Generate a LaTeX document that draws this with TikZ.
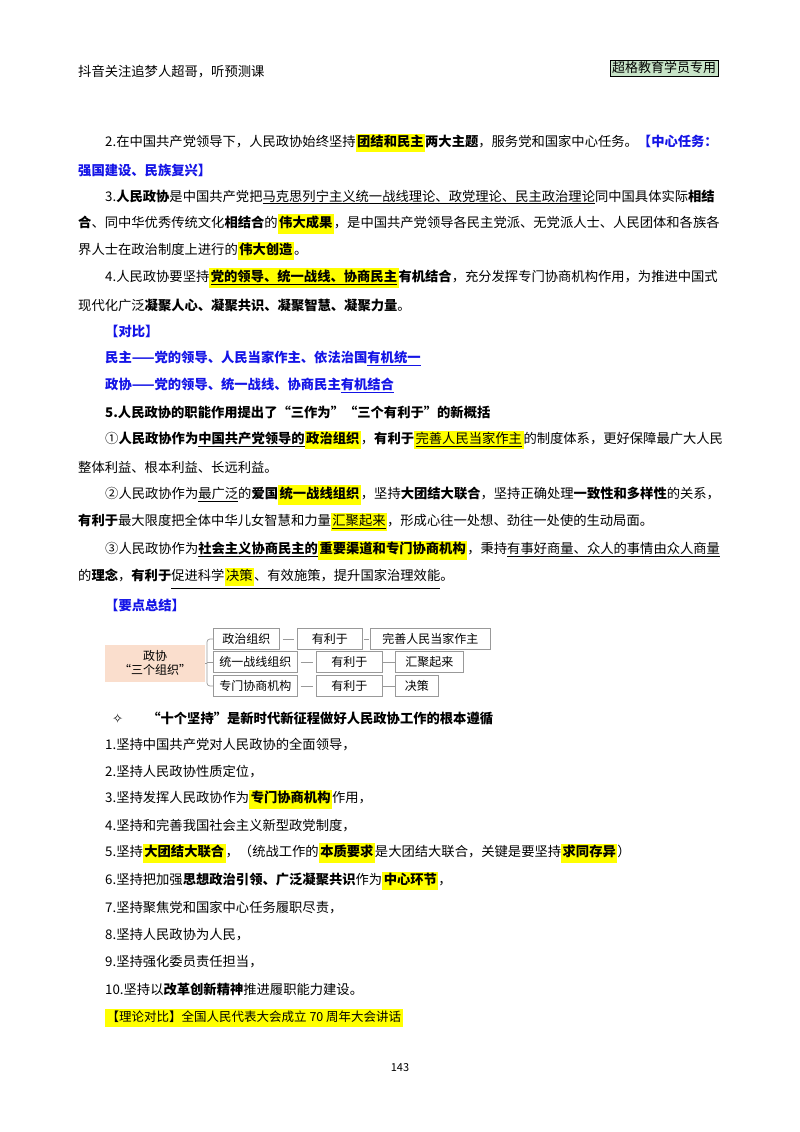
\documentclass[tikz,border=0pt]{standalone}
\usepackage{fontspec}
\setmainfont{Noto Sans CJK SC}
\newfontfamily\symfont{DejaVu Sans}
\definecolor{hly}{RGB}{255,255,0}
\definecolor{bl}{RGB}{20,20,230}
\definecolor{peach}{RGB}{250,222,205}
\definecolor{stampg}{RGB}{200,228,200}
\newcommand{\hy}[1]{{\setlength{\fboxsep}{1.5pt}\colorbox{hly}{\strut #1}}}
\newcommand{\ul}[1]{\underline{#1}}
\tikzset{
 tl/.style={anchor=west,inner sep=0pt,font=\fontsize{13.3}{15}\selectfont},
 bx/.style={draw=gray!80,line width=0.7pt,minimum height=21pt,inner sep=2pt,font=\fontsize{12}{14}\selectfont,fill=white},
 dsh/.style={draw=gray!80,line width=0.7pt}
}
\begin{document}
\begin{tikzpicture}[x=1pt,y=-1pt]
\useasboundingbox (0,0) rectangle (800,1132);
\node[tl] (h1) at (78,72) {抖音关注追梦人超哥，听预测课};
\node[draw,line width=0.8pt,fill=stampg,inner sep=2pt,font=\fontsize{13}{15}\selectfont] (stamp) at (664,68) {超格教育学员专用};

\node[tl] (a1) at (105,143) {2.在中国共产党领导下，人民政协始终坚持\hy{\bfseries 团结和民主}\textbf{两大主题}，服务党和国家中心任务。\textcolor{bl}{\bfseries 【中心任务：}};
\node[tl] (a2) at (78,170) {\textcolor{bl}{\bfseries 强国建设、民族复兴】}};
\node[tl] (b1) at (105,197) {3.\textbf{人民政协}是中国共产党把\ul{马克思列宁主义统一战线理论、政党理论、民主政治理论}同中国具体实际\textbf{相结}};
\node[tl] (b2) at (78,224) {\textbf{合}、同中华优秀传统文化\textbf{相结合}的\hy{\bfseries 伟大成果}，是中国共产党领导各民主党派、无党派人士、人民团体和各族各};
\node[tl] (b3) at (78,251) {界人士在政治制度上进行的\hy{\bfseries 伟大创造}。};
\node[tl] (c1) at (105,278) {4.人民政协要坚持\hy{\bfseries\ul{党的领导、统一战线、协商民主}}\textbf{有机结合}，充分发挥专门协商机构作用，为推进中国式};
\node[tl] (c2) at (78,305) {现代化广泛\textbf{凝聚人心、凝聚共识、凝聚智慧、凝聚力量}。};
\node[tl] (d0) at (105,331) {\textcolor{bl}{\bfseries 【对比】}};
\node[tl] (d1) at (105,358) {\textcolor{bl}{\bfseries 民主——党的领导、人民当家作主、依法治国\ul{有机统一}}};
\node[tl] (d2) at (105,385) {\textcolor{bl}{\bfseries 政协——党的领导、统一战线、协商民主\ul{有机结合}}};
\node[tl] (e0) at (105,412) {\textbf{5.人民政协的职能作用提出了“三作为”“三个有利于”的新概括}};
\node[tl] (e1) at (105,440) {①\textbf{人民政协作为\ul{中国共产党领导的}}\hy{\bfseries 政治组织}，\textbf{有利于}\hy{\ul{完善人民当家作主}}的制度体系，更好保障最广大人民};
\node[tl] (e2) at (78,467) {整体利益、根本利益、长远利益。};
\node[tl] (f1) at (105,495) {②人民政协作为\ul{最广泛}的\textbf{爱国}\hy{\bfseries 统一战线组织}，坚持\textbf{大团结大联合}，坚持正确处理\textbf{一致性和多样性}的关系，};
\node[tl] (f2) at (78,522) {\textbf{有利于}最大限度把全体中华儿女智慧和力量\hy{\ul{汇聚起来}}，形成心往一处想、劲往一处使的生动局面。};
\node[tl] (g1) at (105,550) {③人民政协作为\textbf{\ul{社会主义协商民主的}}\hy{\bfseries 重要渠道和专门协商机构}，秉持\ul{有事好商量、众人的事情由众人商量}};
\node[tl] (g2) at (78,578) {的\textbf{理念}，\textbf{有利于}\ul{促进科学\hy{决策}、有效施策，提升国家治理效能}。};
\node[tl] (k0) at (105,605) {\textcolor{bl}{\bfseries 【要点总结】}};

% diagram
\node[fill=peach,minimum width=100pt,minimum height=37pt,inner sep=0pt,align=center,font=\fontsize{12}{14}\selectfont] (zx) at (155,663) {政协\\“三个组织”};
\node[bx,anchor=west,minimum width=66pt] (r1a) at (213,639) {政治组织};
\node[bx,anchor=west,minimum width=65pt] (r1b) at (297,639) {有利于};
\node[bx,anchor=west,minimum width=120pt] (r1c) at (370,639) {完善人民当家作主};
\node[bx,anchor=west,minimum width=84pt] (r2a) at (213,662) {统一战线组织};
\node[bx,anchor=west,minimum width=66pt] (r2b) at (316,662) {有利于};
\node[bx,anchor=west,minimum width=68pt] (r2c) at (395,662) {汇聚起来};
\node[bx,anchor=west,minimum width=84pt] (r3a) at (213,686) {专门协商机构};
\node[bx,anchor=west,minimum width=66pt] (r3b) at (316,686) {有利于};
\node[bx,anchor=west,minimum width=43pt] (r3c) at (395,686) {决策};
\draw[dsh] ([xshift=3pt]r1a.east) -- ([xshift=-3pt]r1b.west);
\draw[dsh] ([xshift=1pt]r1b.east) -- ([xshift=-1pt]r1c.west);
\draw[dsh] ([xshift=3pt]r2a.east) -- ([xshift=-3pt]r2b.west);
\draw[dsh] (r2b.east) -- (r2c.west);
\draw[dsh] ([xshift=3pt]r3a.east) -- ([xshift=-3pt]r3b.west);
\draw[dsh] (r3b.east) -- (r3c.west);
\draw[dsh,rounded corners=3pt] (r1a.west) -- (207,639) -- (207,686) -- (r3a.west);
\draw[dsh] (r2a.west) -- (207,662);
\draw[dsh] (zx.east) -- (207,663);

\node[tl] (s0) at (112,718) {{\symfont ✧}\hspace{24pt}\textbf{“十个坚持”是新时代新征程做好人民政协工作的根本遵循}};
\node[tl] (s1) at (105,745) {1.坚持中国共产党对人民政协的全面领导，};
\node[tl] (s2) at (105,772) {2.坚持人民政协性质定位，};
\node[tl] (s3) at (105,799) {3.坚持发挥人民政协作为\hy{\bfseries 专门协商机构}作用，};
\node[tl] (s4) at (105,826) {4.坚持和完善我国社会主义新型政党制度，};
\node[tl] (s5) at (105,853) {5.坚持\hy{\bfseries 大团结大联合}，（统战工作的\hy{\bfseries 本质要求}是大团结大联合，关键是要坚持\hy{\bfseries 求同存异}）};
\node[tl] (s6) at (105,881) {6.坚持把加强\textbf{思想政治引领、广泛凝聚共识}作为\hy{\bfseries 中心环节}，};
\node[tl] (s7) at (105,908) {7.坚持聚焦党和国家中心任务履职尽责，};
\node[tl] (s8) at (105,935) {8.坚持人民政协为人民，};
\node[tl] (s9) at (105,962) {9.坚持强化委员责任担当，};
\node[tl] (s10) at (105,989) {10.坚持以\textbf{改革创新精神}推进履职能力建设。};
\node[tl] (lz) at (105,1018) {\hy{\fontsize{12.5}{14}\selectfont 【理论对比】全国人民代表大会成立 70 周年大会讲话}};
\node[inner sep=0pt,font=\fontsize{11}{13}\selectfont] (pg) at (400,1068) {143};
\end{tikzpicture}
\end{document}
